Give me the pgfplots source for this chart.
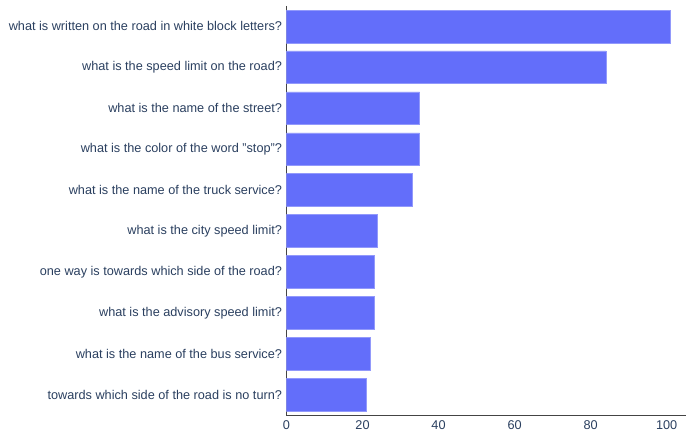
\documentclass[border=0pt]{standalone}
\usepackage{pgfplots}
\pgfplotsset{compat=1.18}
\usepackage{fontspec}
\setmainfont{Liberation Sans}
\definecolor{barc}{HTML}{636EFA}
\definecolor{txt}{HTML}{2A3F5F}
\definecolor{axc}{HTML}{444444}
\begin{document}
\begin{tikzpicture}[x=1pt,y=1pt]
\useasboundingbox (0,0) rectangle (686,435);
\begin{axis}[
  at={(286.5pt,20pt)}, anchor=south west,
  scale only axis, width=399.5pt, height=409pt,
  xbar, bar width=0.8, bar shift=0pt,
  xmin=0, xmax=105.1, ymin=-0.5, ymax=9.5,
  y dir=reverse,
  axis lines*=left,
  axis line style={axc, line width=0.9pt, -},
  ytick={0,...,9},
  yticklabels={
    what is written on the road in white block letters?,
    what is the speed limit on the road?,
    what is the name of the street?,
    what is the color of the word "stop"?,
    what is the name of the truck service?,
    what is the city speed limit?,
    one way is towards which side of the road?,
    what is the advisory speed limit?,
    what is the name of the bus service?,
    towards which side of the road is no turn?},
  xtick={0,20,40,60,80,100},
  major tick length=0pt,
  tick style={draw=none},
  yticklabel style={font=\fontsize{12.7}{14}\selectfont, text=txt, xshift=-1pt},
  xticklabel style={font=\fontsize{12.7}{14}\selectfont, text=txt, yshift=-2pt},
  /pgf/number format/assume math mode=true,
]
\addplot[fill=barc, draw=barc!70!white, line width=0.5pt] coordinates {
  (101,0) (84,1) (35,2) (35,3) (33,4) (24,5) (23,6) (23,7) (22,8) (21,9)
};
\end{axis}
\end{tikzpicture}
\end{document}
